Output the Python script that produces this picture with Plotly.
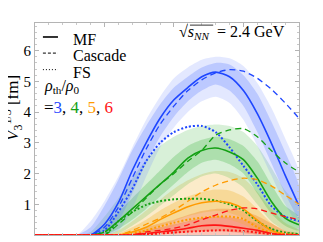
import plotly.graph_objects as go

# ---------------- data ----------------
x = list(range(20))

blue_mf  = [0,0,0,0,0,0.35,1.05,2.1,3.0,3.8,4.4,4.8,5.15,5.3,5.15,4.7,3.95,3.0,1.95,0.95]
blue_cas = [0,0,0,0,0,0.25,0.9,1.85,2.8,3.6,4.2,4.7,5.05,5.28,5.38,5.33,5.1,4.75,4.3,3.8]
blue_fs  = [0,0,0,0,0,0.15,0.75,1.5,2.4,3.0,3.35,3.52,3.55,3.35,2.85,2.25,1.65,0.95,0.6,0.45]
blue_up_in  = [0,0,0,0,0.25,0.95,1.8,2.75,3.55,4.25,4.8,5.15,5.45,5.6,5.55,5.2,4.6,3.7,2.7,1.6]
blue_lo_in  = [0,0,0,0,0,0.05,0.45,1.35,2.35,3.2,3.85,4.35,4.7,4.9,4.7,4.2,3.35,2.35,1.35,0.55]
blue_up_out = [0,0,0,0,0.45,1.1,1.9,2.85,3.75,4.5,5.1,5.45,5.7,5.8,5.75,5.5,4.95,4.15,3.15,2.05]
blue_lo_out = [0,0,0,0,0,0,0.15,0.85,1.9,2.85,3.5,4.0,4.35,4.5,4.3,3.75,2.9,1.95,1.0,0.35]

green_mf  = [0,0,0,0,0,0.1,0.45,0.85,1.25,1.65,2.05,2.5,2.75,2.83,2.7,2.45,1.85,1.1,0.55,0.33]
green_cas = [0,0,0,0,0,0,0.35,0.75,1.2,1.65,2.0,2.4,2.75,3.25,3.42,3.46,3.2,2.75,2.35,2.05]
green_fs  = [0,0,0,0,0,0,0.45,0.75,0.98,1.1,1.16,1.18,1.18,1.12,1.0,0.8,0.45,0.2,0.08,0.03]
green_up_in  = [0,0,0,0,0,0.3,0.75,1.2,1.65,2.1,2.55,2.9,3.1,3.2,3.12,2.9,2.4,1.65,0.95,0.6]
green_lo_in  = [0,0,0,0,0,0,0.2,0.5,0.85,1.25,1.65,2.05,2.35,2.45,2.3,2.0,1.35,0.7,0.3,0.15]
green_up_out = [0,0,0,0,0.1,0.6,1.2,1.85,2.45,2.9,3.2,3.42,3.55,3.6,3.55,3.35,2.9,2.2,1.45,0.9]
green_lo_out = [0,0,0,0,0,0,0.05,0.3,0.6,0.95,1.3,1.65,1.9,2.0,1.85,1.55,1.0,0.45,0.15,0.05]

orange_mf  = [0,0,0,0,0,0,0,0.1,0.25,0.5,0.72,0.92,1.05,1.1,1.05,0.85,0.48,0.15,0.03,0]
orange_cas = [0,0,0,0,0,0,0,0.15,0.35,0.55,0.8,1.1,1.4,1.62,1.77,1.85,1.8,1.6,1.3,1.0]
orange_fs  = [0,0,0,0,0,0,0,0.05,0.15,0.28,0.4,0.5,0.56,0.6,0.6,0.52,0.25,0.07,0.02,0]
orange_up_in  = [0,0,0,0,0,0,0.05,0.25,0.5,0.8,1.05,1.25,1.4,1.48,1.45,1.25,0.85,0.4,0.12,0.03]
orange_lo_in  = [0,0,0,0,0,0,0,0.02,0.1,0.3,0.45,0.62,0.72,0.78,0.72,0.55,0.25,0.05,0,0]
orange_up_out = [0,0,0,0,0,0,0.15,0.45,0.8,1.15,1.5,1.78,1.98,2.08,2.05,1.85,1.4,0.85,0.4,0.15]
orange_lo_out = [0,0,0,0,0,0,0,0,0.03,0.15,0.3,0.42,0.5,0.55,0.5,0.35,0.12,0,0,0]

red_mf  = [0,0,0,0,0,0,0,0,0.05,0.1,0.15,0.22,0.3,0.32,0.28,0.22,0.15,0.05,0,0]
red_cas = [0,0,0,0,0,0,0,0,0.1,0.15,0.22,0.33,0.5,0.65,0.8,0.88,0.85,0.72,0.6,0.5]
red_fs  = [0,0,0,0,0,0,0,0,0.02,0.05,0.08,0.11,0.13,0.15,0.15,0.13,0.08,0.03,0.01,0]
red_up_in  = [0,0,0,0,0,0,0,0.05,0.15,0.25,0.35,0.45,0.55,0.6,0.58,0.5,0.38,0.2,0.05,0]
red_lo_in  = [0,0,0,0,0,0,0,0,0,0.02,0.05,0.08,0.12,0.12,0.1,0.06,0.02,0,0,0]
red_up_out = [0,0,0,0,0,0,0,0.1,0.25,0.38,0.5,0.65,0.78,0.85,0.85,0.78,0.62,0.38,0.15,0.05]
red_lo_out = [0]*20

x_ticks = [0, 5, 10, 15]
y_ticks = [1, 2, 3, 4, 5, 6]

# ---------------- figure ----------------
FONT = "Liberation Serif"
fig = go.Figure()

series = [
    ("red",    "rgb(255,20,20)",  (240, 90, 50), 0.35, 0.35, red_mf, red_cas, red_fs,
     red_up_in, red_lo_in, red_up_out, red_lo_out),
    ("orange", "rgb(255,155,0)",  (240, 175, 40), 0.25, 0.3, orange_mf, orange_cas, orange_fs,
     orange_up_in, orange_lo_in, orange_up_out, orange_lo_out),
    ("green",  "rgb(20,160,20)",  (60, 180, 60), 0.2, 0.28, green_mf, green_cas, green_fs,
     green_up_in, green_lo_in, green_up_out, green_lo_out),
    ("blue",   "rgb(30,70,255)",  (100, 130, 255), 0.18, 0.3, blue_mf, blue_cas, blue_fs,
     blue_up_in, blue_lo_in, blue_up_out, blue_lo_out),
]

# bands
for name, lc, base, a_out, a_in, mf, cas, fs, up_in, lo_in, up_out, lo_out in series:
    for up, lo, a in ((up_out, lo_out, a_out), (up_in, lo_in, a_in)):
        fig.add_trace(go.Scatter(
            x=x + x[::-1], y=up + lo[::-1], fill="toself",
            fillcolor=f"rgba({base[0]},{base[1]},{base[2]},{a})",
            line=dict(width=0, shape="spline", smoothing=0.7), mode="lines",
            hoverinfo="skip", showlegend=False))

# lines
for name, lc, base, a_out, a_in, mf, cas, fs, up_in, lo_in, up_out, lo_out in series[::-1]:
    fig.add_trace(go.Scatter(x=x, y=cas, mode="lines", showlegend=False,
                             line=dict(color=lc, width=1.3, dash="6px,4px", shape="spline", smoothing=0.7)))
    fig.add_trace(go.Scatter(x=x, y=fs, mode="lines", showlegend=False,
                             line=dict(color=lc, width=2, dash="2px,2px", shape="spline", smoothing=0.7)))
    fig.add_trace(go.Scatter(x=x, y=mf, mode="lines", showlegend=False,
                             line=dict(color=lc, width=1.6, shape="spline", smoothing=0.7)))

axis_common = dict(showline=True, linecolor="#b4b4b4", linewidth=1, mirror="allticks",
                   ticks="inside", ticklen=4, tickcolor="#b4b4b4", showgrid=False, zeroline=False,
                   automargin=False,
                   tickfont=dict(family=FONT, size=15, color="black"))
fig.update_xaxes(range=[0, 19], tickvals=x_ticks, ticktext=[str(v) for v in x_ticks],
                 minor=dict(dtick=1, ticks="inside", ticklen=2, tickcolor="#c8c8c8"),
                 **axis_common)
fig.update_yaxes(range=[0, 6.9], tickvals=y_ticks, ticktext=[str(v) for v in y_ticks],
                 minor=dict(dtick=0.2, ticks="inside", ticklen=2, tickcolor="#c8c8c8"),
                 **axis_common)

# legend drawn with shapes + text
leg_rows = [(0.934, "solid", "MF"), (0.858, "3px,2px", "Cascade"), (0.78, "1px,2px", "FS")]
for yy, dash, label in leg_rows:
    fig.add_shape(type="line", xref="paper", yref="paper", x0=0.03, x1=0.087, y0=yy, y1=yy,
                  line=dict(color="black", width=1.6 if dash == "solid" else 1, dash=dash))
    fig.add_annotation(xref="paper", yref="paper", x=0.135, y=yy - 0.012, text=label,
                       showarrow=False, xanchor="left", yanchor="middle",
                       font=dict(family=FONT, size=16, color="black"))

fig.add_annotation(xref="paper", yref="paper", x=0.025, y=0.70,
                   text="<i>ρ</i><sub>th</sub>/<i>ρ</i><sub>0</sub>",
                   showarrow=False, xanchor="left", yanchor="middle",
                   font=dict(family=FONT, size=16, color="black"))
fig.add_annotation(xref="paper", yref="paper", x=0.025, y=0.60,
                   text=("=<span style='color:rgb(30,70,255)'>3</span>, "
                         "<span style='color:rgb(20,160,20)'>4</span>, "
                         "<span style='color:rgb(255,155,0)'>5</span>, "
                         "<span style='color:rgb(255,20,20)'>6</span>"),
                   showarrow=False, xanchor="left", yanchor="middle",
                   font=dict(family=FONT, size=17, color="black"))

fig.add_annotation(xref="paper", yref="paper", x=0.955, y=0.955,
                   text="√<i>s</i><sub><i>NN</i></sub>  = 2.4 GeV",
                   showarrow=False, xanchor="right", yanchor="middle",
                   font=dict(family=FONT, size=16, color="black"))
# radical overline
fig.add_shape(type="line", xref="paper", yref="paper", x0=0.587, x1=0.675, y0=0.99, y1=0.99,
              line=dict(color="black", width=0.8))

fig.add_annotation(xref="paper", yref="paper", x=-0.083, y=0.6, textangle=-90,
                   text="<i>V</i><sub>3</sub><sup>1/3</sup> [fm]",
                   showarrow=False, xanchor="center", yanchor="middle",
                   font=dict(family=FONT, size=17, color="black"))

# page body has an 8px default margin: size the figure so the plot area lands where the reference has it
fig.update_layout(width=315, height=234, margin=dict(l=27, r=24, t=15, b=7),
                  paper_bgcolor="white", plot_bgcolor="white", showlegend=False)

fig.write_html("out.html")
